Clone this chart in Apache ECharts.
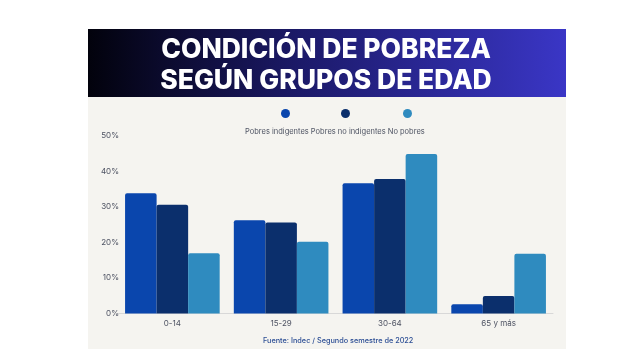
<!DOCTYPE html>
<html><head><meta charset="utf-8">
<script src="https://cdn.jsdelivr.net/npm/echarts@6/dist/echarts.min.js"></script>
<style>html,body{margin:0;padding:0;background:#fff}#c{width:620px;height:356px}</style>
</head><body><div id="c"></div>
<script>
const categories = ['0-14', '15-29', '30-64', '65 y más'];
const seriesNames = ['Pobres indigentes', 'Pobres no indigentes', 'No pobres'];
const pobresIndigentes = [33.9, 26.3, 36.7, 2.6];
const pobresNoIndigentes = [30.6, 25.6, 37.9, 4.9];
const noPobres = [17.0, 20.2, 44.9, 16.8];
const yTicks = [0, 10, 20, 30, 40, 50];
const colors = ['#0a46ad', '#0b2f6c', '#2f8bbf'];

const chart = echarts.init(document.getElementById('c'), null, {renderer: 'canvas'});
const values = [pobresIndigentes, pobresNoIndigentes, noPobres];
const legendLeft = [281, 341, 403];
const option = {
  animation: false,
  textStyle: {fontFamily: 'Inter, Roboto, sans-serif'},
  graphic: [
    {type: 'rect', shape: {x: 88, y: 96, width: 478, height: 253}, style: {fill: '#f5f4f0'}, z: -10},
    {type: 'rect', shape: {x: 88, y: 29, width: 478, height: 68},
     style: {fill: new echarts.graphic.LinearGradient(0, 0, 1, 0, [{offset: 0, color: '#02020c'}, {offset: 0.45, color: '#1c1a6a'}, {offset: 1, color: '#3a36c6'}])}, z: -9},
    {type: 'text', x: 326, y: 35, style: {text: 'CONDICIÓN DE POBREZA\nSEGÚN GRUPOS DE EDAD', fill: '#fff', font: '800 26.5px Inter, Roboto, sans-serif', align: 'center', textAlign: 'center', lineHeight: 31}},
    {type: 'text', left: 263, top: 337, style: {text: 'Fuente: Indec / Segundo semestre de 2022', fill: '#2d4f95', font: '500 7.3px Inter, Roboto, sans-serif'}},
    {type: 'text', left: 245, top: 128, style: {text: 'Pobres indigentes Pobres no indigentes No pobres', fill: '#4d5262', font: '7.5px Inter, Roboto, sans-serif'}}
  ],
  legend: seriesNames.map((n, i) => ({
    data: [n], left: legendLeft[i], top: 109, icon: 'circle', itemWidth: 9, itemHeight: 9,
    formatter: () => '', selectedMode: false, padding: 0
  })),
  grid: {left: 118, right: 67, top: 136, bottom: 42.5},
  xAxis: {
    type: 'category', data: categories,
    axisLine: {lineStyle: {color: '#d8d8d8', width: 1}}, axisTick: {show: false},
    axisLabel: {color: '#4d5262', fontSize: 8, margin: 6}
  },
  yAxis: {
    type: 'value', min: 0, max: 50, interval: 10,
    axisLine: {show: false}, axisTick: {show: false}, splitLine: {show: false},
    axisLabel: {color: '#4d5262', fontSize: 8, margin: -1, formatter: v => yTicks.includes(v) ? v + '%' : ''}
  },
  series: seriesNames.map((n, i) => ({
    name: n, type: 'bar', data: values[i], barGap: '0%', barCategoryGap: '13%',
    itemStyle: {color: colors[i], borderRadius: [2, 2, 0, 0]}
  }))
};
chart.setOption(option);
</script></body></html>
